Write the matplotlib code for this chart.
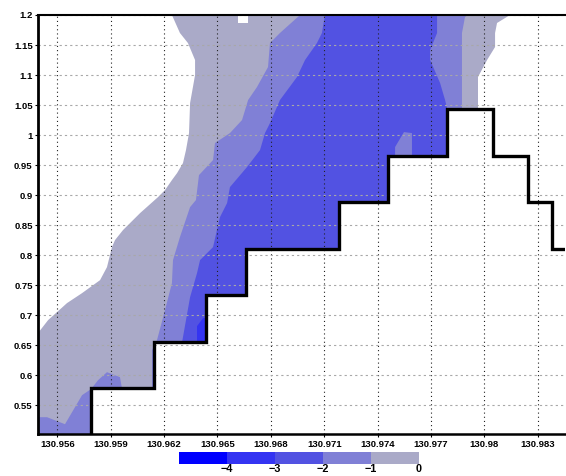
import numpy as np
import matplotlib
matplotlib.use('Agg')
import matplotlib.pyplot as plt
from matplotlib.colors import ListedColormap, BoundaryNorm
from matplotlib.colorbar import ColorbarBase

plt.rcParams['font.family'] = ['Liberation Sans', 'DejaVu Sans']
plt.rcParams['font.weight'] = 'bold'
plt.rcParams['lines.scale_dashes'] = False

XMIN, XMAX = 130.95493, 130.98453
YMIN, YMAX = 0.502, 1.2

# shading levels and colours (< -4 ... -1..0)
levels = [-5, -4, -3, -2, -1, 0]
level_colors = ['#0000ff', '#3434f2', '#5252e2', '#8080d6', '#aaaac8']
cbar_labels = ['\u22124', '\u22123', '\u22122', '\u22121', '0']

# left boundaries of the shaded bands (top -> bottom)
y_zero_left = [1.2, 1.17, 1.1533, 1.125, 1.1, 1.08, 1.0533, 1.0033, 0.975, 0.9533,
               0.9367, 0.925, 0.9083, 0.8967, 0.87, 0.8417, 0.825, 0.8133, 0.78,
               0.7583, 0.7367, 0.72, 0.705, 0.6917, 0.67]
x_zero_left = [130.96244, 130.96289, 130.96334, 130.96374, 130.96374, 130.96362,
               130.96346, 130.96340, 130.96323, 130.96306, 130.96273, 130.96244,
               130.96205, 130.96166, 130.96065, 130.95969, 130.95924, 130.95907,
               130.95879, 130.95840, 130.95739, 130.95654, 130.95598, 130.95548,
               130.95491]

y_m1_left = [1.2, 1.17, 1.1533, 1.1133, 1.08, 1.0583, 1.025, 1.0033, 0.9867, 0.9583,
             0.9333, 0.8917, 0.88, 0.83, 0.7917, 0.7533, 0.7083, 0.6583, 0.6417, 0.5783]
x_m1_left = [130.96964, 130.96851, 130.96795, 130.96784, 130.96722, 130.96672,
             130.96638, 130.96570, 130.96486, 130.96475, 130.96396, 130.96379,
             130.96346, 130.96289, 130.96250, 130.96244, 130.96205, 130.96160,
             130.96132, 130.96132]

y_m2_left = [1.2, 1.17, 1.1533, 1.125, 1.0967, 1.0583, 1.02, 1.0033, 0.975, 0.9467,
             0.9133, 0.8867, 0.8633, 0.8417, 0.8133, 0.7917, 0.77, 0.73, 0.6633, 0.655]
x_m2_left = [130.97104, 130.97087, 130.97059, 130.96992, 130.96947, 130.96851,
             130.96795, 130.96767, 130.96739, 130.96666, 130.96570, 130.96554,
             130.96514, 130.96497, 130.96475, 130.96402, 130.96385, 130.96346,
             130.96306, 130.96301]

# right boundaries near the top (top -> bottom)
y_m2_right = [1.2, 1.17, 1.1417, 1.125, 1.0867, 1.0583, 1.045]
x_m2_right = [130.97734, 130.97734, 130.97695, 130.97695, 130.97751, 130.97779, 130.97790]

y_m1_right = [1.2, 1.1967, 1.17, 1.045]
x_m1_right = [130.97908, 130.97891, 130.97874, 130.97874]

y_zero_right = [1.2, 1.1867, 1.17, 1.1467, 1.125, 1.1033, 1.0967, 1.045]
x_zero_right = [130.98144, 130.98071, 130.98060, 130.98060, 130.98015, 130.97976,
                130.97964, 130.97964]

# small patches
patch_m3_x = [130.96385, 130.96385, 130.96419, 130.96436, 130.96436]
patch_m3_y = [0.655, 0.6817, 0.695, 0.695, 0.655]
patch_m1_x = [130.97498, 130.97498, 130.97548, 130.97593, 130.97593]
patch_m1_y = [0.965, 0.98, 1.005, 1.0033, 0.965]
corner_m1_x = [130.95491, 130.95542, 130.95643, 130.95739, 130.95789, 130.95829,
               130.95879, 130.95952, 130.95963, 130.95963, 130.95491]
corner_m1_y = [0.53, 0.53, 0.5183, 0.5667, 0.5767, 0.5917, 0.605, 0.5967, 0.5783,
               YMIN, YMIN]
hole_x = [130.96615, 130.96672, 130.96672, 130.96615]
hole_y = [1.1867, 1.1867, 1.2, 1.2]

# topography steps
step_edges = [130.95789, 130.96143, 130.96436, 130.9666, 130.97183, 130.97458,
              130.9779, 130.98049, 130.98245, 130.9838]
step_heights = [0.578, 0.655, 0.733, 0.811, 0.888, 0.965, 1.044, 0.965, 0.888, 0.811]

xticks = [130.956, 130.959, 130.962, 130.965, 130.968, 130.971, 130.974, 130.977,
          130.98, 130.983]
xtick_labels = ['130.956', '130.959', '130.962', '130.965', '130.968', '130.971',
                '130.974', '130.977', '130.98', '130.983']
yticks = [0.55, 0.6, 0.65, 0.7, 0.75, 0.8, 0.85, 0.9, 0.95, 1.0, 1.05, 1.1, 1.15, 1.2]
ytick_labels = ['0.55', '0.6', '0.65', '0.7', '0.75', '0.8', '0.85', '0.9', '0.95',
                '1', '1.05', '1.1', '1.15', '1.2']


def band(left_x, left_y, right_x, right_y):
    xs = list(left_x) + [left_x[-1], right_x[-1]] + list(right_x)[::-1]
    ys = list(left_y) + [YMIN, YMIN] + list(right_y)[::-1]
    return xs, ys


fig = plt.figure(figsize=(5.66, 4.76), dpi=100)
ax = fig.add_axes([38.3 / 566, 42 / 476, (565 - 38.3) / 566, 419 / 476])

xs, ys = band(x_zero_left + [XMIN], y_zero_left + [YMIN], x_zero_right, y_zero_right)
ax.fill(xs, ys, color=level_colors[4], lw=0, zorder=1)
xs, ys = band(x_m1_left, y_m1_left, x_m1_right, y_m1_right)
ax.fill(xs, ys, color=level_colors[3], lw=0, zorder=1.1)
xs, ys = band(x_m2_left, y_m2_left, x_m2_right, y_m2_right)
ax.fill(xs, ys, color=level_colors[2], lw=0, zorder=1.2)
ax.fill(corner_m1_x, corner_m1_y, color=level_colors[3], lw=0, zorder=1.3)
ax.fill(patch_m1_x, patch_m1_y, color=level_colors[3], lw=0, zorder=1.3)
ax.fill(patch_m3_x, patch_m3_y, color=level_colors[1], lw=0, zorder=1.3)
ax.fill(hole_x, hole_y, color='white', lw=0, zorder=1.3)

# topography mask and outline
step_x = list(np.repeat(step_edges, 2)) + [XMAX]
step_y = [YMIN] + list(np.repeat(step_heights, 2))
ax.fill(step_x + [XMAX, step_x[0]], step_y + [YMIN, YMIN], color='white', lw=0, zorder=1.5)
ax.plot(step_x, step_y, color='black', lw=2.4, zorder=4, solid_joinstyle='miter')

ax.set_xlim(XMIN, XMAX)
ax.set_ylim(YMIN, YMAX)
ax.set_xticks(xticks)
ax.set_xticklabels(xtick_labels)
ax.set_yticks(yticks)
ax.set_yticklabels(ytick_labels)
ax.tick_params(direction='out', length=2.5, width=0.8, labelsize=6.8, pad=1.5)

ax.set_axisbelow(False)
ax.xaxis.grid(True, color='#222222', linestyle=(0, (0.8, 2.2)), lw=0.8)
ax.yaxis.grid(True, color='#a8a8a8', linestyle=(0, (1.6, 2.2)), lw=0.8)

ax.spines['right'].set_visible(False)
ax.spines['left'].set_linewidth(2.0)
ax.spines['bottom'].set_linewidth(1.8)
ax.spines['top'].set_linewidth(1.5)
for s in ax.spines.values():
    s.set_zorder(5)

# colour bar
cax = fig.add_axes([179 / 566, (476 - 464.3) / 476, 240 / 566, 12.6 / 476])
cmap = ListedColormap(level_colors)
norm = BoundaryNorm(levels, cmap.N)
cb = ColorbarBase(cax, cmap=cmap, norm=norm, orientation='horizontal',
                  ticks=levels[1:])
cb.outline.set_visible(False)
cb.ax.minorticks_off()
cb.ax.set_xticklabels(cbar_labels)
cb.ax.tick_params(which='both', length=0, labelsize=7.8, pad=0)

fig.savefig('out.png', dpi=100)
